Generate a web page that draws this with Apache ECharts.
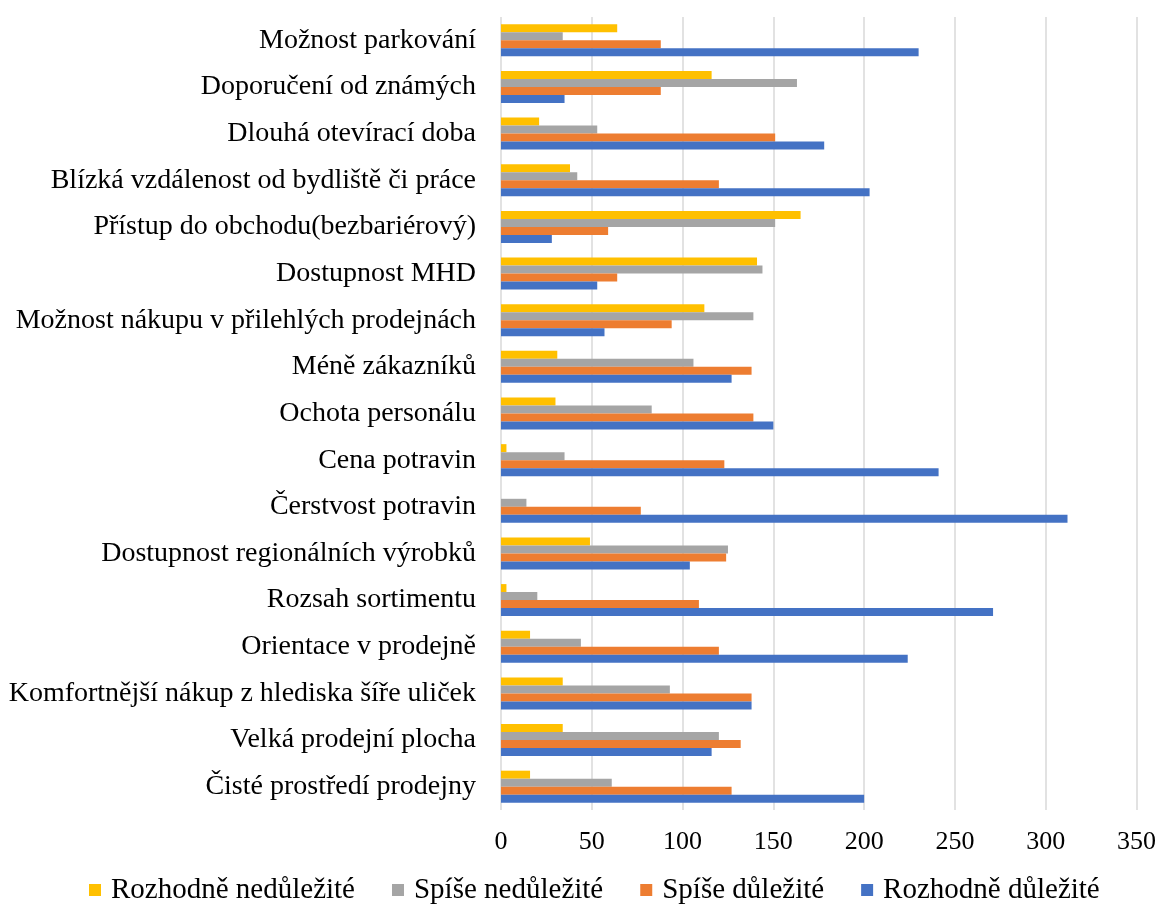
<!DOCTYPE html>
<html>
<head>
<meta charset="utf-8">
<script src="https://cdn.jsdelivr.net/npm/echarts@6/dist/echarts.min.js"></script>
<style>
  html, body { margin: 0; padding: 0; background: #fff; }
  #chart { width: 1159px; height: 907px; }
</style>
</head>
<body>
<div id="chart"></div>
<script>
// Factors listed from top to bottom
const categories = [
  'Možnost parkování',
  'Doporučení od známých',
  'Dlouhá otevírací doba',
  'Blízká vzdálenost od bydliště či práce',
  'Přístup do obchodu(bezbariérový)',
  'Dostupnost MHD',
  'Možnost nákupu v přilehlých prodejnách',
  'Méně zákazníků',
  'Ochota personálu',
  'Cena potravin',
  'Čerstvost potravin',
  'Dostupnost regionálních výrobků',
  'Rozsah sortimentu',
  'Orientace v prodejně',
  'Komfortnější nákup z hlediska šíře uliček',
  'Velká prodejní plocha',
  'Čisté prostředí prodejny'
];

const seriesNames = ['Rozhodně nedůležité', 'Spíše nedůležité', 'Spíše důležité', 'Rozhodně důležité'];

const rozhodneNedulezite = [64, 116, 21, 38, 165, 141, 112, 31, 30, 3, 0, 49, 3, 16, 34, 34, 16];
const spiseNedulezite    = [34, 163, 53, 42, 151, 144, 139, 106, 83, 35, 14, 125, 20, 44, 93, 120, 61];
const spiseDulezite      = [88, 88, 151, 120, 59, 64, 94, 138, 139, 123, 77, 124, 109, 120, 138, 132, 127];
const rozhodneDulezite   = [230, 35, 178, 203, 28, 53, 57, 127, 150, 241, 312, 104, 271, 224, 138, 116, 200];

const xTicks = { min: 0, max: 350, interval: 50 };

const colors = ['#FFC000', '#A5A5A5', '#ED7D31', '#4472C4'];
const values = [rozhodneNedulezite, spiseNedulezite, spiseDulezite, rozhodneDulezite];

const FONT = '"Liberation Serif", "Times New Roman", serif';

const chart = echarts.init(document.getElementById('chart'), null, { renderer: 'canvas' });

chart.setOption({
  animation: false,
  backgroundColor: '#ffffff',
  color: colors,
  grid: { left: 501, right: 21, top: 17, bottom: 97, containLabel: false },
  legend: {
    data: seriesNames,
    top: 875,
    left: 89,
    padding: 0,
    itemWidth: 12,
    itemHeight: 12,
    itemGap: 37,
    icon: 'rect',
    textStyle: { fontFamily: FONT, fontSize: 29, color: '#000', padding: [0, 0, 0, 5], lineHeight: 30 }
  },
  xAxis: {
    type: 'value',
    min: xTicks.min,
    max: xTicks.max,
    interval: xTicks.interval,
    axisLine: { show: false },
    axisTick: { show: false },
    axisLabel: { fontFamily: FONT, fontSize: 26, color: '#000', margin: 19 },
    splitLine: { show: true, lineStyle: { color: '#d9d9d9', width: 1.5 } }
  },
  yAxis: {
    type: 'category',
    data: categories,
    inverse: true,
    axisLine: { show: false },
    axisTick: { show: false },
    axisLabel: { fontFamily: FONT, fontSize: 28, color: '#000', margin: 25 }
  },
  series: seriesNames.map((name, i) => ({
    name: name,
    type: 'bar',
    data: values[i],
    barWidth: 8,
    barGap: '0%',
    itemStyle: { color: colors[i] }
  }))
});
</script>
</body>
</html>
